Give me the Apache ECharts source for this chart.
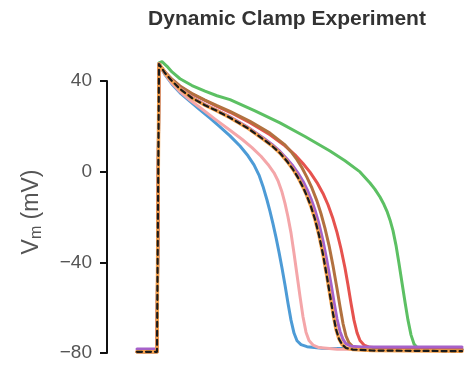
<!DOCTYPE html>
<html><head><meta charset="utf-8">
<script src="https://cdn.jsdelivr.net/npm/echarts@6/dist/echarts.min.js"></script>
<style>html,body{margin:0;padding:0;background:#fff}#c{width:468px;height:367px}</style>
</head><body><div id="c"></div>
<script>
// time (ms, 0 = upstroke) and membrane potential (mV) for each trace
const greenT = [-20,0,2,5,10,15,23,35,48,60,73,98,123,148,173,188,203,213,218,223,227,230,233,236,239,242,245,248,251,254,257,260,265,283,305];
const greenV = [-79.5,-79.5,48.0,48.5,46.5,44.0,41.0,38.0,35.5,33.5,31.8,26.8,21.5,15.5,9.1,4.8,-0.1,-5.0,-7.8,-11.2,-14.5,-17.5,-21.3,-26.0,-32.5,-40.5,-49.0,-57.5,-65.5,-72.0,-76.0,-77.6,-78.1,-78.2,-78.2];
const redT = [-20,0,2,8,15,23,35,48,60,73,93,113,128,138,146,153,160,166,171,176,180,184,188,191,194,197,200,203,207,213,240,305];
const redV = [-79.5,-79.5,47.5,43.8,40.5,37.4,34.3,31.4,28.8,26.2,21.6,16.3,11.4,7.4,3.6,-0.2,-4.8,-9.6,-14.6,-20.8,-26.8,-34.0,-42.5,-50.0,-58.0,-65.5,-71.0,-74.5,-76.5,-77.5,-78.2,-78.4];
const brownT = [-20,0,2,8,15,23,35,48,60,73,93,113,128,135,140,145,150,155,160,164,168,172,176,180,183,186,189,192,196,203,225,305];
const brownV = [-79.5,-79.5,47.5,44.0,40.8,37.8,34.5,31.6,29.1,26.6,22.2,17.0,11.8,8.3,5.3,1.7,-2.5,-7.3,-13.0,-18.5,-25.0,-32.5,-41.5,-51.5,-59.5,-67.0,-72.5,-75.5,-77.3,-78.2,-78.6,-78.7];
const purpleT = [-20,0,2,8,15,23,35,48,60,73,90,106,115,123,130,136,141,146,150,154,158,162,166,170,174,177,180,183,186,189,194,205,305];
const purpleV = [-78.2,-78.2,47.5,43.5,40.2,36.8,32.8,29.6,27.0,24.2,19.8,15.0,12.0,8.9,5.6,2.5,-0.6,-4.2,-7.8,-12.0,-17.0,-23.0,-30.5,-39.5,-49.5,-57.5,-65.0,-70.5,-74.0,-76.0,-77.0,-77.3,-77.3];
const blackT = [-20,0,2,8,15,23,35,48,60,73,90,106,115,123,130,136,141,146,150,154,158,162,166,170,173,176,179,182,185,189,196,215,305];
const blackV = [-79.5,-79.5,47.5,43.5,40.0,36.5,32.5,29.3,26.8,23.8,19.4,14.4,11.4,8.2,4.6,1.0,-2.6,-6.8,-10.8,-15.4,-21.0,-28.0,-36.5,-46.5,-54.5,-62.5,-69.5,-73.8,-76.2,-77.8,-78.5,-78.9,-79.2];
const pinkT = [-20,0,2,8,15,23,33,43,58,73,85,95,104,111,117,121,125,128,131,134,137,140,143,146,149,152,156,162,180,305];
const pinkV = [-79.5,-79.5,47.5,43.0,39.0,35.3,31.6,28.3,23.2,18.3,14.3,10.6,6.8,3.2,-0.5,-4.0,-9.0,-14.0,-20.0,-27.0,-36.0,-45.5,-55.0,-64.0,-70.8,-74.5,-76.5,-77.6,-78.3,-78.6];
const blueT = [-20,0,2,8,15,23,33,43,53,63,73,83,91,97,102,106,110,113,116,119,122,125,128,131,134,137,140,144,150,165,305];
const blueV = [-79.5,-79.5,47.5,42.8,38.6,34.8,31.0,27.3,23.6,19.8,15.8,11.3,7.0,3.0,-1.5,-6.5,-12.5,-17.5,-23.0,-29.0,-35.5,-42.5,-50.0,-58.0,-65.5,-71.2,-74.6,-76.3,-77.2,-77.9,-78.6];
const yTicks = [-80,-40,0,40];

function pts(t, v) { return t.map((x, i) => [x, v[i]]); }
function line(name, t, v, color, width, type) {
  return {
    name, type: 'line', data: pts(t, v), showSymbol: false, symbol: 'none',
    clip: false, smooth: false, animation: false,
    lineStyle: { color, width, type: type || 'solid', join: 'round', cap: 'round' }
  };
}

const chart = echarts.init(document.getElementById('c'), null, { renderer: 'canvas' });
chart.setOption({
  animation: false,
  grid: { left: 107, right: 6, top: 81, bottom: 14 },
  xAxis: { type: 'value', min: -50, max: 305, show: false },
  yAxis: {
    type: 'value', min: yTicks[0], max: yTicks[yTicks.length - 1], interval: 40,
    splitLine: { show: false },
    axisLine: { show: true, onZero: false, lineStyle: { color: '#111', width: 2 } },
    axisTick: { show: true, length: 7, lineStyle: { color: '#111', width: 2 } },
    axisLabel: { color: '#555', fontSize: 19, fontFamily: 'Liberation Sans, Arial', margin: 15,
      formatter: v => (v < 0 ? '\u2212' + Math.abs(v) : String(v)) },
    name: '{a|V}{b|m}{a| (mV)}', nameLocation: 'middle', nameGap: 62, nameRotate: 90,
    nameTextStyle: { padding: [0, 0, 0, 10], rich: {
      a: { fontSize: 23, color: '#555', fontFamily: 'Liberation Sans, Arial' },
      b: { fontSize: 16, color: '#555', fontFamily: 'Liberation Sans, Arial', padding: [11, 0, 0, 0] }
    } }
  },
  graphic: [{ type: 'text', x: 287, y: 19, style: {
    text: 'Dynamic Clamp Experiment', textAlign: 'center', textVerticalAlign: 'middle',
    font: 'bold 21px "Liberation Sans", Arial', fill: '#333' } }],
  series: [
    line('green', greenT, greenV, '#5cc063', 3),
    line('blue', blueT, blueV, '#4d9bd6', 3),
    line('pink', pinkT, pinkV, '#f4a6a9', 3),
    line('red', redT, redV, '#e6524e', 3),
    line('brown', brownT, brownV, '#b2713f', 3),
    line('purple', purpleT, purpleV, '#a661c9', 3),
    line('orange', blackT, blackV, '#f5a14c', 3.5),
    line('black', blackT, blackV, '#1a1a1a', 2.2, [5, 4])
  ]
});
</script></body></html>
